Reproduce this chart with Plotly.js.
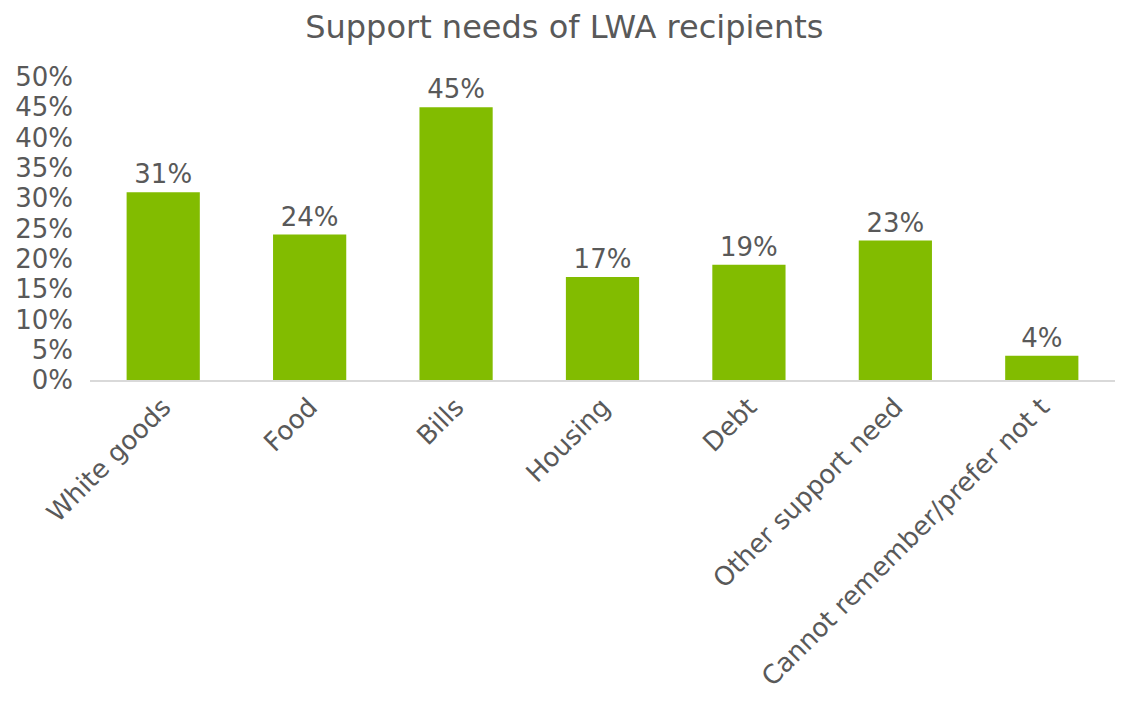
<!DOCTYPE html>
<html><head><meta charset="utf-8">
<script src="https://cdn.plot.ly/plotly-3.0.1.min.js"></script>
<style>html,body{margin:0;padding:0;background:#fff;}#chart{width:1122px;height:706px;}</style>
</head><body><div id="chart"></div>
<script>
const categories = ["White goods","Food","Bills","Housing","Debt","Other support need","Cannot remember/prefer not t"];
const values = [31,24,45,17,19,23,4];
const labels = ["31%","24%","45%","17%","19%","23%","4%"];
const yTicks = [0,5,10,15,20,25,30,35,40,45,50];
const yTickText = ["0%","5%","10%","15%","20%","25%","30%","35%","40%","45%","50%"];

const font = "DejaVu Sans, Arial, sans-serif";
const grey = "#595959";
Plotly.newPlot("chart", [{
  type: "bar",
  x: categories,
  y: values,
  text: labels,
  textposition: "outside",
  cliponaxis: false,
  textfont: {family: font, size: 26, color: grey},
  marker: {color: "#82bc00"},
  hoverinfo: "none"
}], {
  width: 1122, height: 706,
  margin: {l: 90, r: 7, t: 77, b: 326},
  paper_bgcolor: "#fff", plot_bgcolor: "#fff",
  bargap: 0.5,
  showlegend: false,
  title: {text: "Support needs of LWA recipients", x: 0.503, xanchor: "center", y: 0.962, yanchor: "middle",
          font: {family: font, size: 32, color: grey}},
  xaxis: {tickangle: -45, tickfont: {family: font, size: 26, color: grey},
          showline: true, linecolor: "#d9d9d9", linewidth: 1.5, ticks: "", showgrid: false, zeroline: false},
  yaxis: {range: [0, 50], tickvals: yTicks, ticktext: yTickText, showgrid: false, zeroline: false,
          showline: false, ticks: "", ticklen: 0, ticklabelstandoff: 16,
          tickfont: {family: font, size: 26, color: grey}}
}, {displayModeBar: false, staticPlot: true});
</script></body></html>
